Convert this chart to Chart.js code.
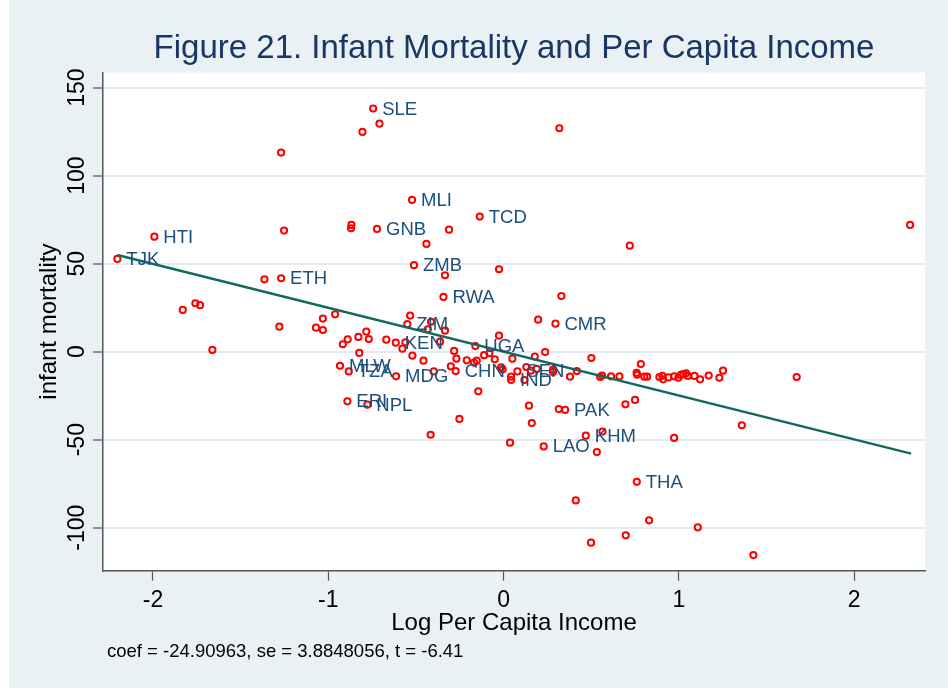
<!DOCTYPE html>
<html>
<head>
<meta charset="utf-8">
<script src="https://cdn.jsdelivr.net/npm/chart.js@4.4.1/dist/chart.umd.min.js"></script>
<style>
  html, body { margin: 0; padding: 0; background: #ffffff; }
  #wrap { width: 948px; height: 688px; }
</style>
</head>
<body>
<div id="wrap"><canvas id="myChart" width="948" height="688"></canvas></div>
<script>
// log per capita income (x), infant mortality residual (y), country code ('' = no label)
var logIncome = [
  -1.269, -1.992, -2.203, -1.252, -1.364, -1.269,
  -0.744, -0.708, -0.805, 0.318, -0.522, -0.136, -0.868, -0.870, -0.722, -0.311, -0.440, 0.720,
  -0.511, -0.334, -0.026, -0.343, 0.330, 2.319,
  -1.830, -1.758, -1.731, -1.661, -1.279, -1.070, -1.031, -1.031,
  -0.961, -0.533, -0.549, -0.414, -0.432, -0.334, 0.197, 0.296, -0.026,
  -0.917, -0.889, -0.828, -0.783, -0.769, -0.669, -0.615, -0.560, -0.577, -0.823, -0.520, -0.457,
  -0.362, -0.282, -0.269, -0.301, -0.273, -0.398, -0.161, -0.210, -0.168, -0.153, -0.111, -0.081,
  -0.050, -0.014, -0.005, 0.050, 0.043, 0.043, 0.079, 0.130, 0.119, 0.155, 0.189, 0.178, 0.237,
  0.282, 0.282, 0.379, 0.418, 0.501, 0.551, 0.562, 0.613, 0.661,
  -0.933, -0.883, -0.613, -0.891, -0.777, -0.144, 0.145, 0.315, 0.351, 0.695, 0.161, -0.252,
  -0.416, 0.037, 0.229, 0.469, 0.564, 0.532, 0.412, 0.499, 0.697,
  0.783, 0.759, 0.762, 0.803, 0.819, 0.889, 0.906, 0.910, 0.940, 0.973, 0.997, 1.011, 1.026,
  1.041, 1.051, 1.089, 1.121, 1.170, 1.231, 1.252, 1.672, 0.750, 1.359, 0.973, 0.760, 0.830,
  1.108, 1.425
];
var infantMortality = [
  113.1, 65.3, 52.7, 68.8, 41.1, 41.7,
  138.1, 129.5, 124.8, 126.9, 86.2, 76.7, 72.0, 70.1, 69.7, 69.3, 61.2, 60.2,
  49.1, 43.4, 46.8, 31.1, 31.6, 72.0,
  23.7, 27.5, 26.4, 1.0, 14.2, 13.6, 18.8, 12.3,
  21.2, 20.5, 15.6, 17.0, 12.7, 11.9, 18.2, 15.9, 9.1,
  4.2, 7.0, 8.4, 11.4, 7.2, 6.8, 5.1, 5.3, 1.7, -0.7, -2.3, -5.1,
  5.7, 0.4, -4.0, -8.3, -11.0, -11.2, 3.2, -4.9, -6.2, -5.1, -2.0, -0.9,
  -4.3, -8.9, -10.0, -4.0, -14.2, -16.1, -11.2, -8.7, -16.1, -10.8, -9.8, -2.8, -0.2,
  -10.2, -11.6, -14.2, -11.0, -3.6, -14.4, -13.6, -14.0, -14.0,
  -8.0, -11.2, -14.0, -28.2, -30.1, -22.5, -30.7, -32.6, -33.1, -29.9, -40.5, -38.2,
  -47.2, -51.7, -53.8, -47.7, -45.4, -57.0, -84.5, -108.5, -104.3,
  -7.0, -12.1, -13.1, -14.2, -14.2, -14.4, -13.8, -15.7, -14.6, -14.0, -14.8, -13.2, -12.8,
  -12.3, -13.8, -13.8, -15.7, -13.6, -14.8, -10.8, -14.4, -27.4, -41.8, -49.0, -73.9, -95.8,
  -99.8, -115.5
];
var countryCode = [
  '', 'HTI', 'TJK', '', '', 'ETH',
  'SLE', '', '', '', 'MLI', 'TCD', '', '', 'GNB', '', '', '',
  'ZMB', '', '', 'RWA', '', '',
  '', '', '', '', '', '', '', '',
  '', '', 'ZIM', '', '', '', '', 'CMR', '',
  '', '', '', '', '', '', 'KEN', '', '', '', '', '',
  '', '', '', '', 'CHN', '', 'UGA', '', '', '', '', '',
  '', '', '', '', '', 'IND', 'SEN', '', '', '', '', '', '',
  '', '', '', '', '', '', '', '', '',
  'MLW', 'TZA', 'MDG', 'ERI', 'NPL', '', '', '', 'PAK', '', '', '',
  '', '', 'LAO', 'KHM', '', '', '', '', '',
  '', '', '', '', '', '', '', '', '', '', '', '', '',
  '', '', '', '', '', '', '', '', '', '', '', 'THA', '',
  '', ''
];

// fitted line end points (coef = -24.90963)
var fitX = [-2.203, 2.325];
var fitY = [54.9, -57.9];

var xTicks = [-2, -1, 0, 1, 2];
var yTicks = [-100, -50, 0, 50, 100, 150];

var titleText = 'Figure 21. Infant Mortality and Per Capita Income';
var xTitle = 'Log Per Capita Income';
var yTitle = 'infant mortality';
var noteText = 'coef = -24.90963, se = 3.8848056, t = -6.41';

var fontName = '"Liberation Sans", Arial, Helvetica, sans-serif';
var bgColor = '#e9f1f4';
var gridColor = '#e3ecf0';
var axisColor = '#555555';
var labelColor = '#1c4f7c';

var points = logIncome.map(function (x, i) {
  return { x: x, y: infantMortality[i] };
});
var fitLine = fitX.map(function (x, i) {
  return { x: x, y: fitY[i] };
});

// background: light blue graph region, white plot region
var bgPlugin = {
  id: 'bg',
  beforeDraw: function (chart) {
    var ctx = chart.ctx;
    var a = chart.chartArea;
    ctx.save();
    ctx.fillStyle = '#ffffff';
    ctx.fillRect(0, 0, chart.width, chart.height);
    ctx.fillStyle = bgColor;
    ctx.fillRect(9, 0, chart.width - 9, chart.height);
    ctx.fillStyle = '#ffffff';
    ctx.fillRect(a.left, a.top, a.right - a.left, a.bottom - a.top);
    ctx.restore();
  }
};

// country code next to the marker (3 o'clock) and the note under the graph
var labelPlugin = {
  id: 'pointLabels',
  afterDatasetsDraw: function (chart) {
    var ctx = chart.ctx;
    var meta = chart.getDatasetMeta(1);
    ctx.save();
    ctx.font = '18.5px ' + fontName;
    ctx.fillStyle = labelColor;
    ctx.textAlign = 'left';
    ctx.textBaseline = 'middle';
    meta.data.forEach(function (pt, i) {
      if (countryCode[i]) {
        ctx.fillText(countryCode[i], pt.x + 9, pt.y + 1);
      }
    });
    ctx.restore();
  },
  afterDraw: function (chart) {
    var ctx = chart.ctx;
    ctx.save();
    ctx.font = '18.5px ' + fontName;
    ctx.fillStyle = '#000000';
    ctx.textAlign = 'left';
    ctx.textBaseline = 'middle';
    ctx.fillText(noteText, 107, 652);
    ctx.restore();
  }
};

var ctx = document.getElementById('myChart').getContext('2d');
var chart = new Chart(ctx, {
  type: 'scatter',
  data: {
    datasets: [
      {
        type: 'line',
        label: 'fit',
        data: fitLine,
        borderColor: '#12695f',
        borderWidth: 2.5,
        pointRadius: 0,
        fill: false,
        order: 0
      },
      {
        label: 'countries',
        data: points,
        pointStyle: 'circle',
        pointRadius: 3.1,
        pointBorderWidth: 2,
        borderColor: '#ff0000',
        backgroundColor: 'rgba(0,0,0,0)',
        order: 1
      }
    ]
  },
  options: {
    responsive: false,
    animation: false,
    devicePixelRatio: 1,
    layout: { padding: { left: 0, right: 23, top: 0, bottom: 50.6 } },
    plugins: {
      legend: { display: false },
      tooltip: { enabled: false },
      title: {
        display: true,
        fullSize: false,
        text: titleText,
        color: '#1a3764',
        font: { family: fontName, size: 33, weight: 'normal', lineHeight: 1.2 },
        padding: { top: 29, bottom: 4 }
      }
    },
    scales: {
      x: {
        type: 'linear',
        min: -2.285,
        max: 2.404,
        afterBuildTicks: function (axis) {
          axis.ticks = xTicks.map(function (v) { return { value: v }; });
        },
        afterFit: function (scale) { scale.height = 66.7; },
        border: { display: true, color: axisColor, width: 1.5 },
        grid: {
          drawOnChartArea: false,
          drawTicks: true,
          tickLength: 10,
          tickColor: axisColor,
          tickWidth: 1.2
        },
        ticks: {
          color: '#000000',
          font: { family: fontName, size: 23, lineHeight: 1.2 },
          padding: 6.5,
          maxRotation: 0,
          minRotation: 0
        },
        title: {
          display: true,
          text: xTitle,
          color: '#000000',
          font: { family: fontName, size: 24, lineHeight: 1.2 },
          padding: { top: 0, bottom: 0 }
        }
      },
      y: {
        type: 'linear',
        min: -124.4,
        max: 158.5,
        afterBuildTicks: function (axis) {
          axis.ticks = yTicks.map(function (v) { return { value: v }; });
        },
        afterFit: function (scale) { scale.width = 103; },
        border: { display: true, color: axisColor, width: 1.5 },
        grid: {
          color: gridColor,
          lineWidth: 2,
          drawTicks: true,
          tickLength: 10,
          tickColor: axisColor,
          tickWidth: 1.2
        },
        ticks: {
          color: '#000000',
          font: { family: fontName, size: 23, lineHeight: 1.2 },
          minRotation: 90,
          maxRotation: 90,
          crossAlign: 'center',
          padding: -8
        },
        title: {
          display: true,
          text: yTitle,
          color: '#000000',
          font: { family: fontName, size: 24, lineHeight: 1.2 },
          padding: { top: 35, bottom: 0 }
        }
      }
    }
  },
  plugins: [bgPlugin, labelPlugin]
});
</script>
</body>
</html>
